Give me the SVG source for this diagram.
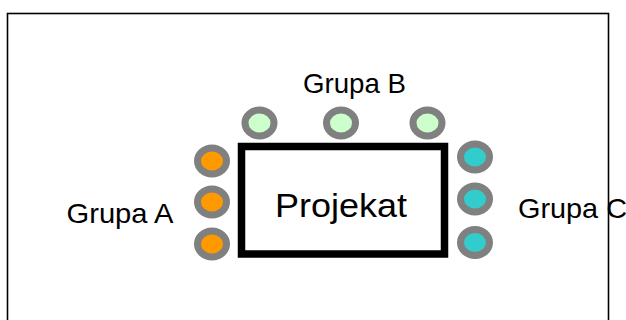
<svg xmlns="http://www.w3.org/2000/svg" width="626" height="320" viewBox="0 0 626 320">
<style>
text{font-family:"Liberation Sans",Arial,sans-serif;fill:#000}
.lbl{font-size:27.5px}
.dot{stroke:#808080;stroke-width:7}
.a{fill:#FF9900}.b{fill:#CCFFCC}.c{fill:#33CCCC}
</style>
<rect width="626" height="320" fill="#fff"/>
<rect id="frame" x="7.5" y="13.5" width="601" height="330" fill="#fff" stroke="#000" stroke-width="1.6"/>
<g id="projekat">
<rect x="241.5" y="146.5" width="203" height="107.5" fill="#fff" stroke="#000" stroke-width="7.5"/>
<text x="275" y="216.5" font-size="33.5" textLength="132" lengthAdjust="spacingAndGlyphs">Projekat</text>
</g>
<g id="grupaA">
<ellipse class="dot a" cx="212" cy="161" rx="14.5" ry="13"/>
<ellipse class="dot a" cx="212" cy="202" rx="14.5" ry="13"/>
<ellipse class="dot a" cx="212" cy="244" rx="14.5" ry="13"/>
<text class="lbl" x="66.5" y="222.5" textLength="107" lengthAdjust="spacingAndGlyphs">Grupa A</text>
</g>
<g id="grupaB">
<ellipse class="dot b" cx="259.5" cy="123" rx="14.5" ry="13"/>
<ellipse class="dot b" cx="341" cy="123" rx="14.5" ry="13"/>
<ellipse class="dot b" cx="427.5" cy="123" rx="14.5" ry="13"/>
<text class="lbl" x="303" y="93.3" textLength="103" lengthAdjust="spacingAndGlyphs">Grupa B</text>
</g>
<g id="grupaC">
<ellipse class="dot c" cx="475" cy="157" rx="14.5" ry="13"/>
<ellipse class="dot c" cx="475" cy="199" rx="14.5" ry="13"/>
<ellipse class="dot c" cx="475" cy="242.5" rx="14.5" ry="13"/>
<text class="lbl" x="518" y="218.3" textLength="109" lengthAdjust="spacingAndGlyphs">Grupa C</text>
</g>
<g id="connectors"/>
</svg>
